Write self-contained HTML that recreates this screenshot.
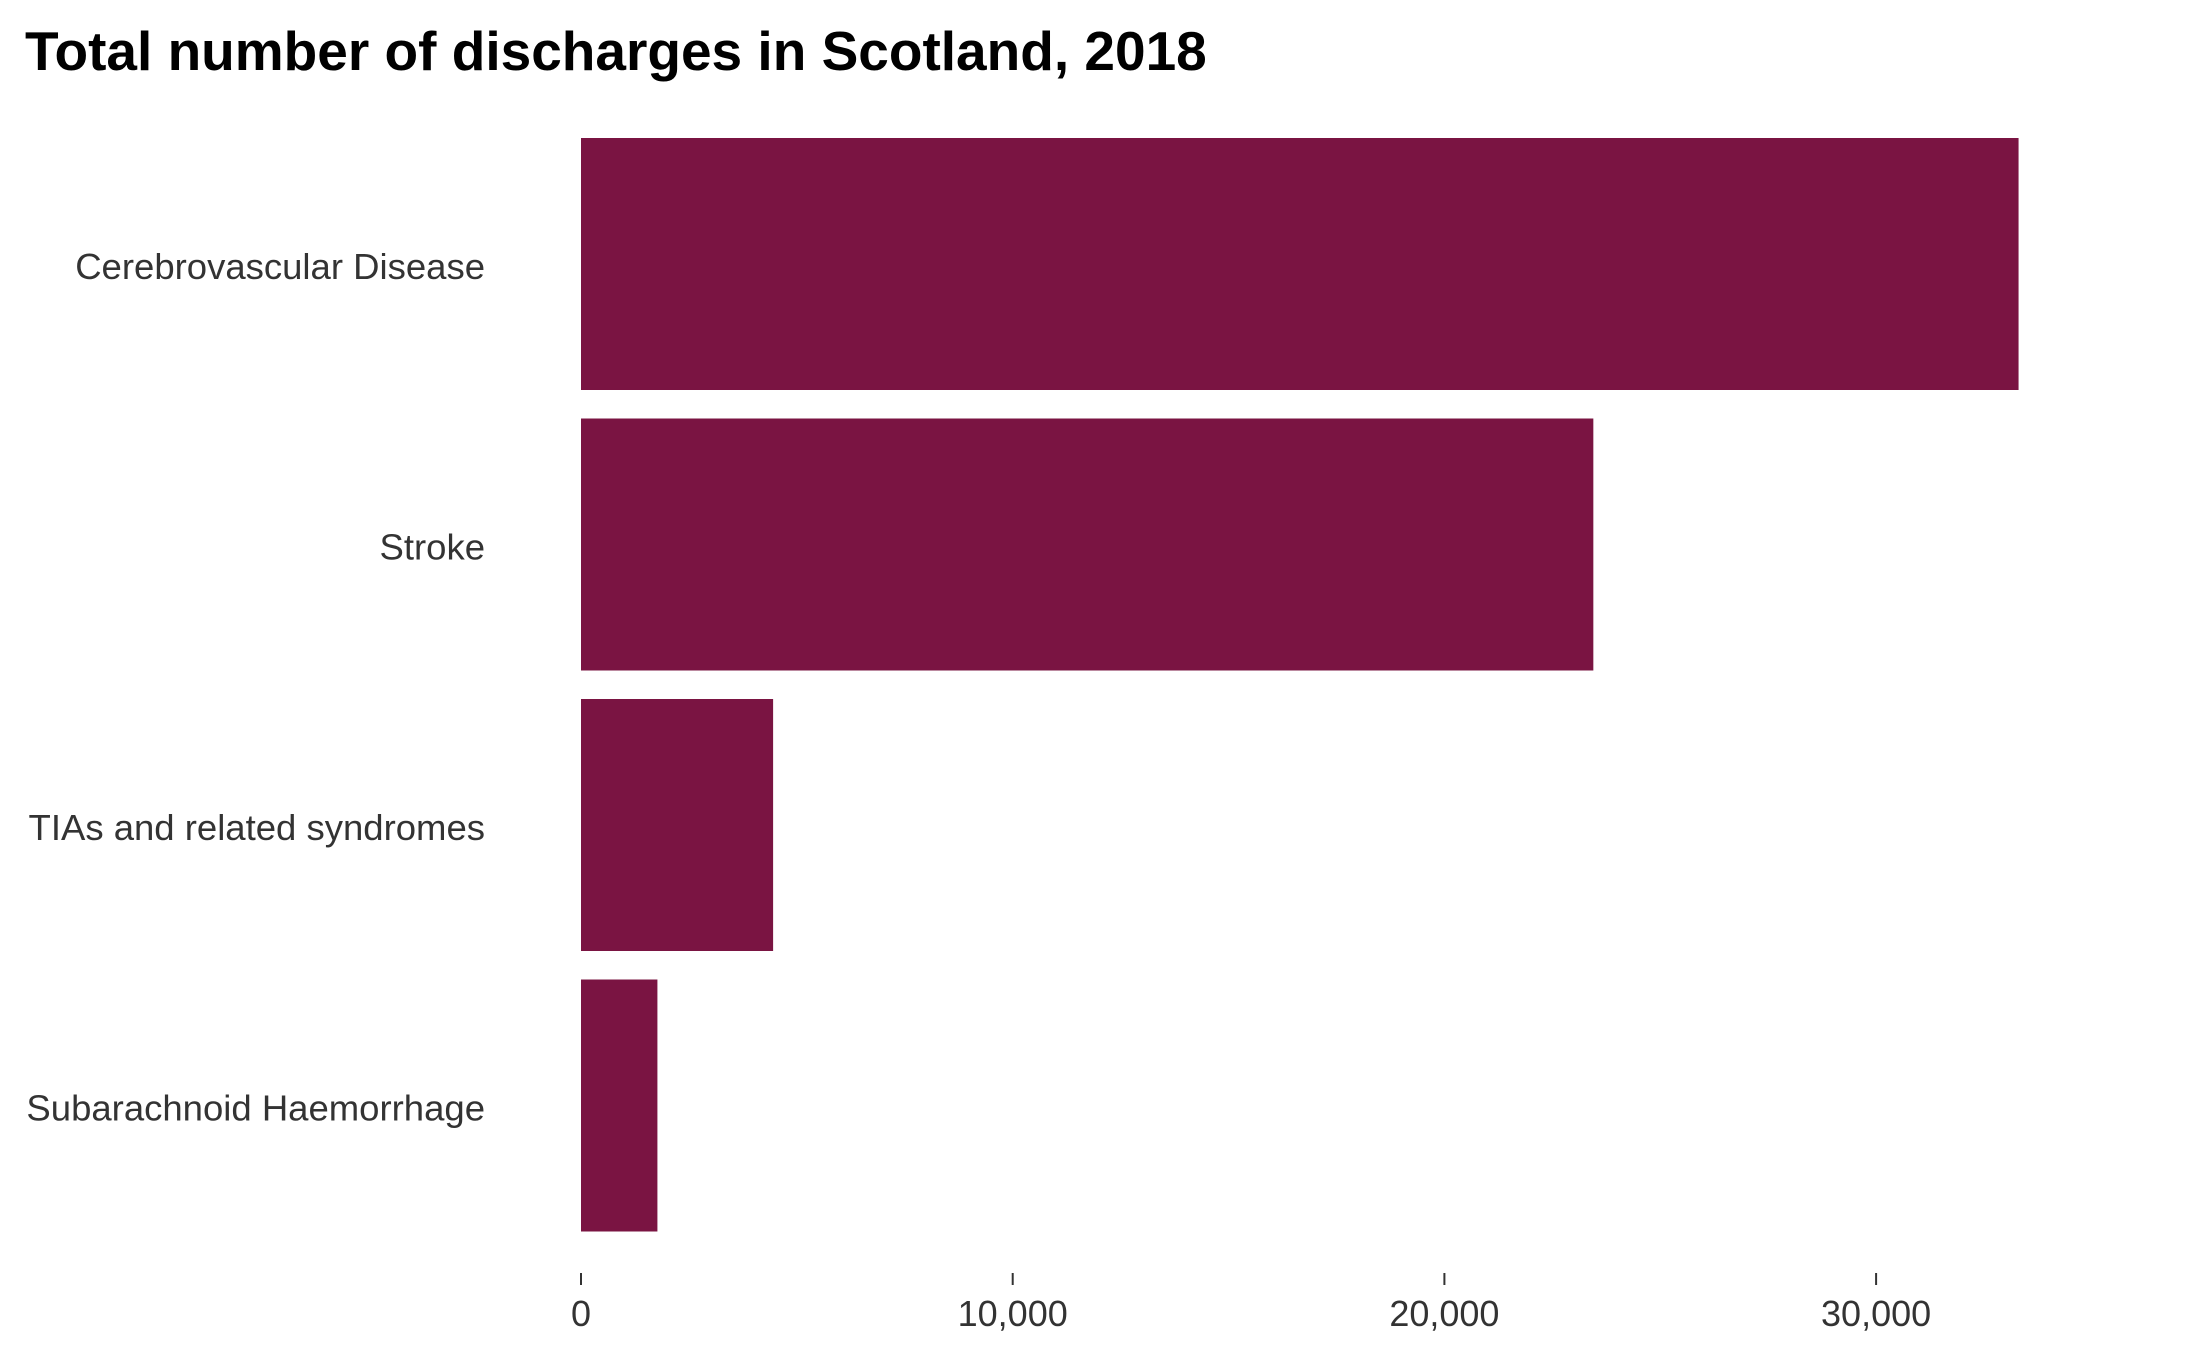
<!DOCTYPE html>
<html><head><meta charset="utf-8"><style>
body{margin:0;background:#fff;}
svg{display:block;font-family:"Liberation Sans",Arial,sans-serif;}
</style></head><body>
<svg id="chart" width="2187" height="1351" viewBox="0 0 2187 1351">
<text x="25" y="70" font-size="55" font-weight="bold" fill="#000">Total number of discharges in Scotland, 2018</text>
<g id="bars"></g><g id="ylabels"></g><g id="xaxis"></g>
</svg>
<script>
const categories=["Cerebrovascular Disease","Stroke","TIAs and related syndromes","Subarachnoid Haemorrhage"];
const values=[33300,23450,4450,1770];
const ticks=[0,10000,20000,30000];
const tickLabels=["0","10,000","20,000","30,000"];
const NS="http://www.w3.org/2000/svg";
const x0=581, pxPer=0.04317;
const xs=v=>x0+v*pxPer;
const top0=138, band=280.5, bh=252;
const bars=document.getElementById('bars'),yl=document.getElementById('ylabels'),xa=document.getElementById('xaxis');
categories.forEach((c,i)=>{
  const y=top0+i*band;
  const r=document.createElementNS(NS,'rect');
  r.setAttribute('x',xs(0));r.setAttribute('y',y);r.setAttribute('width',xs(values[i])-xs(0));r.setAttribute('height',bh);r.setAttribute('fill','#7a1442');
  
  
  bars.appendChild(r);
  const t=document.createElementNS(NS,'text');
  t.setAttribute('x',485);t.setAttribute('y',y+bh/2+15);t.setAttribute('text-anchor','end');t.setAttribute('font-size','36.5');t.setAttribute('fill','#333');
  t.textContent=c;
  
  
  yl.appendChild(t);
});
ticks.forEach((v,i)=>{
  const l=document.createElementNS(NS,'line');
  l.setAttribute('x1',xs(v));l.setAttribute('x2',xs(v));l.setAttribute('y1',1273);l.setAttribute('y2',1285);l.setAttribute('stroke','#333');l.setAttribute('stroke-width','2');
  
  
  xa.appendChild(l);
  const t=document.createElementNS(NS,'text');
  t.setAttribute('x',xs(v));t.setAttribute('y',1326);t.setAttribute('text-anchor','middle');t.setAttribute('font-size','36');t.setAttribute('fill','#333');
  t.textContent=tickLabels[i];
  
  
  xa.appendChild(t);
});
</script>
</body></html>
